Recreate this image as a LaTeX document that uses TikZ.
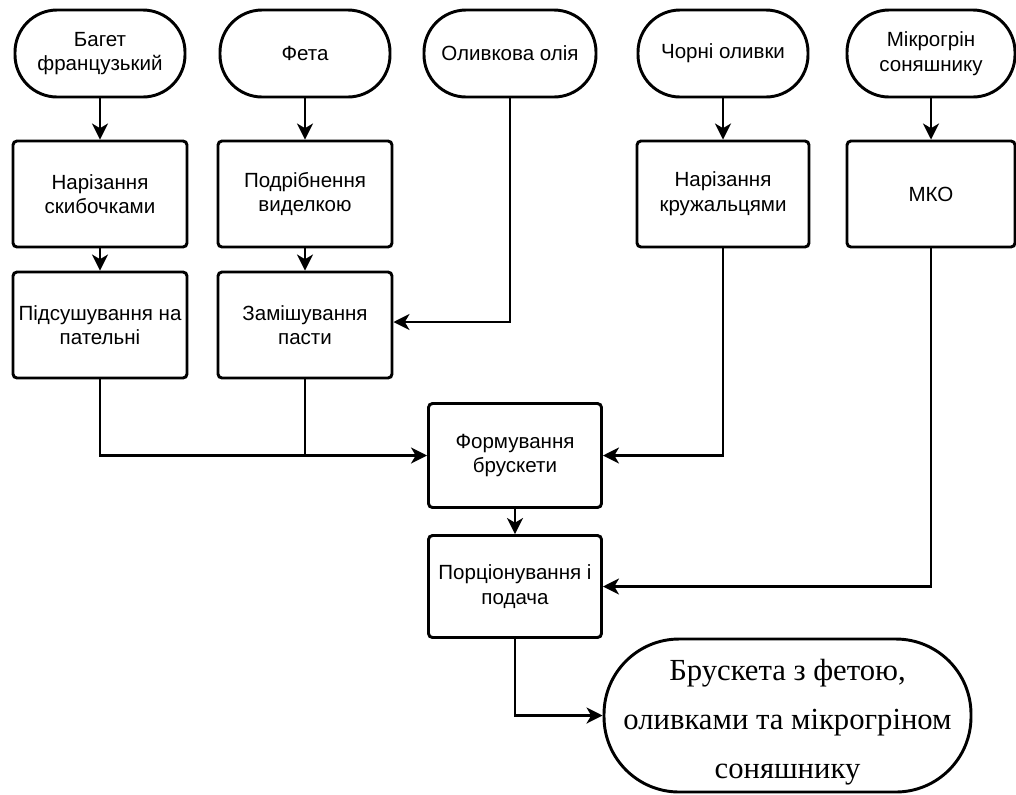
\documentclass[tikz,border=0pt]{standalone}
\usepackage{fontspec}
\setmainfont{Liberation Sans}
\newfontfamily\finalfont{Liberation Serif}
\usetikzlibrary{arrows.meta}
\begin{document}
\begin{tikzpicture}[x=0.75pt,y=-0.75pt,
  every node/.style={inner sep=0pt, align=center, font=\fontsize{15.4}{18.5}\selectfont},
  line/.style={line width=2.2pt},
  arr/.style={line width=2.2pt,-{Stealth[length=12pt,width=12pt,inset=3.5pt]}},
  pill/.style n args={2}{draw, line width=2.2pt, rectangle, rounded corners=#2*0.375pt-1pt, minimum width=#1*0.75pt, minimum height=#2*0.75pt},
  box/.style n args={2}{draw, line width=2.2pt, rectangle, rounded corners=3pt, minimum width=#1*0.75pt, minimum height=#2*0.75pt}
]
\useasboundingbox (0,0) rectangle (1016,794);
% top row
\node[pill={170}{87}] (bag) at (100,53.5) {Багет\\французький};
\node[pill={170}{87}] (feta) at (305,53.5) {Фета};
\node[pill={172}{87}] (oil) at (510,53.5) {Оливкова олія};
\node[pill={170}{87}] (olv) at (723,53.5) {Чорні оливки};
\node[pill={168}{87}] (mic) at (931,53.5) {Мікрогрін\\соняшнику};
% second row
\node[box={174}{106}] (nar) at (100,194) {Нарізання\\скибочками};
\node[box={174}{106}] (pod) at (305,194) {Подрібнення\\виделкою};
\node[box={172}{106}] (nk) at (723,194) {Нарізання\\кружальцями};
\node[box={168}{106}] (mko) at (931,194) {МКО};
% third row
\node[box={174}{106}] (pid) at (100,325) {Підсушування на\\пательні};
\node[box={174}{106}] (zam) at (305,325) {Замішування\\пасти};
% middle
\node[box={173}{104}] (form) at (515,455.5) {Формування\\брускети};
\node[box={173}{102}] (port) at (515,586.5) {Порціонування і\\подача};
\node[pill={367}{153}, label={[font=\finalfont\fontsize{23}{36.5}\selectfont, yshift=-5pt]center:Брускета з фетою,\\оливками та мікрогріном\\соняшнику}] (fin) at (787.5,715.5) {};
% connectors
\draw[arr] (bag) -- (nar);
\draw[arr] (nar) -- (pid);
\draw[arr] (feta) -- (pod);
\draw[arr] (pod) -- (zam);
\draw[arr] (oil.south) |- ([yshift=2.25pt]zam.east);
\draw[arr] (olv) -- (nk);
\draw[arr] (mic) -- (mko);
\draw[arr] (pid.south) |- (form.west);
\draw[line] (zam.south) -- (zam.south |- form.west);
\draw[arr] (nk.south) |- (form.east);
\draw[arr] (mko.south) |- (port.east);
\draw[arr] (form) -- (port);
\draw[arr] (port.south) |- (fin.west);
\end{tikzpicture}
\end{document}
